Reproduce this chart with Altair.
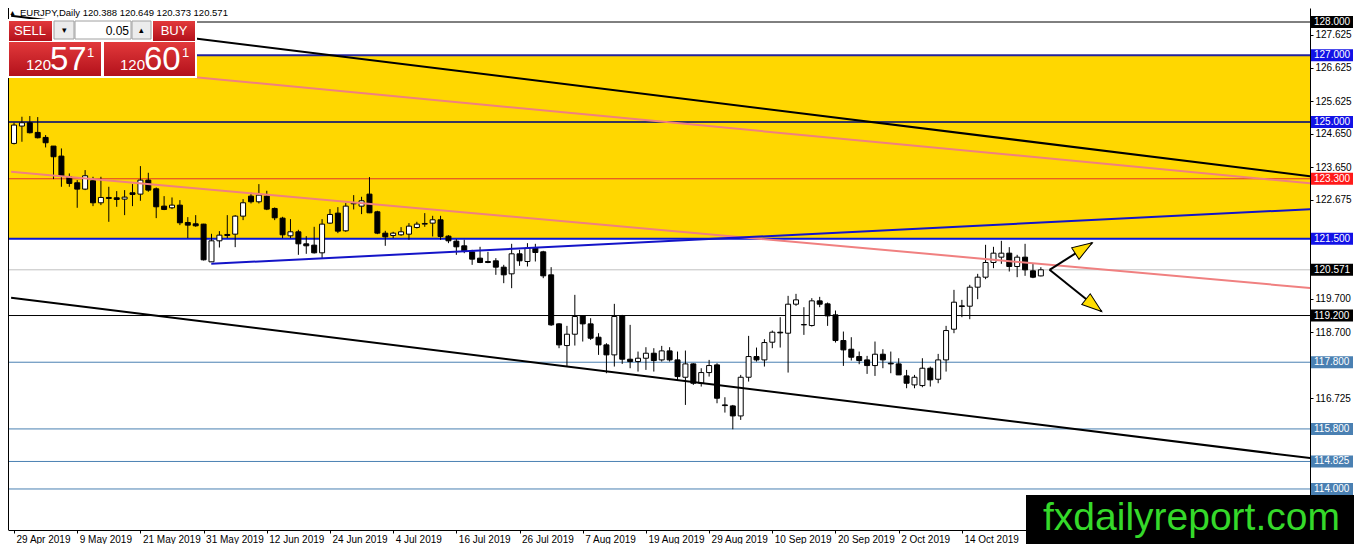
import json

import altair as alt
import pandas as pd

# ---- values ------------------------------------------------------------
symbol = "EURJPY"
period = "Daily"

date_labels = ["29 Apr 2019", "9 May 2019", "21 May 2019", "31 May 2019",
               "12 Jun 2019", "24 Jun 2019", "4 Jul 2019", "16 Jul 2019",
               "26 Jul 2019", "7 Aug 2019", "19 Aug 2019", "29 Aug 2019",
               "10 Sep 2019", "20 Sep 2019", "2 Oct 2019", "14 Oct 2019"]
bars_per_label = 8

opens = [124.36, 124.88, 124.98, 124.69, 124.54, 124.28, 123.98, 123.36, 123.18, 122.99,
         123.24, 122.58, 122.74, 122.73, 122.69, 122.88, 122.84, 123.26, 123.00, 122.48,
         122.43, 122.51, 121.99, 121.95, 121.94, 120.81, 121.44, 121.63, 121.64, 122.18,
         122.78, 122.61, 122.78, 122.41, 122.12, 121.59, 121.71, 121.35, 121.31, 121.08,
         121.97, 122.27, 121.74, 122.55, 122.48, 122.84, 122.31, 121.67, 121.60, 121.62,
         121.64, 121.84, 121.94, 121.97, 122.07, 121.58, 121.43, 121.29, 121.11, 120.92,
         120.82, 120.84, 120.65, 120.45, 121.05, 120.82, 121.22, 121.11, 120.42, 118.95,
         118.30, 118.64, 119.19, 118.95, 118.55, 118.32, 118.02, 119.19, 117.89, 117.82,
         117.92, 118.07, 117.87, 118.14, 117.87, 117.35, 117.75, 117.17, 117.49, 117.72,
         116.52, 116.49, 116.19, 117.35, 117.97, 117.87, 118.40, 118.70, 118.67, 119.54,
         118.93, 118.90, 119.64, 119.55, 119.22, 118.45, 118.19, 117.97, 117.87, 117.70,
         118.04, 117.77, 117.75, 117.39, 117.12, 117.10, 117.62, 117.29, 117.87, 118.79,
         119.49, 119.48, 120.05, 120.35, 120.79, 120.95, 121.07, 120.67, 120.95, 120.54,
         120.388]
highs = [124.98, 125.16, 125.18, 125.15, 124.61, 124.28, 124.21, 123.46, 123.26, 123.56,
         123.36, 123.36, 123.06, 122.93, 122.96, 123.14, 123.68, 123.48, 123.04, 122.78,
         122.74, 122.66, 122.15, 122.21, 121.95, 121.65, 121.73, 122.21, 122.21, 122.69,
         122.88, 123.14, 122.94, 122.44, 122.16, 122.09, 121.77, 121.58, 121.86, 122.09,
         122.39, 122.45, 122.57, 122.81, 122.76, 123.35, 122.34, 121.74, 121.71, 121.85,
         121.97, 122.01, 122.27, 122.19, 122.19, 121.61, 121.49, 121.47, 121.17, 121.26,
         121.11, 120.92, 120.72, 121.35, 121.17, 121.37, 121.35, 121.14, 120.65, 118.97,
         118.89, 119.82, 119.21, 119.12, 118.67, 118.37, 119.55, 119.22, 118.92, 118.12,
         118.25, 118.22, 118.29, 118.25, 118.12, 118.15, 117.77, 117.62, 117.87, 117.77,
         116.75, 116.52, 117.42, 118.59, 118.24, 118.49, 118.75, 119.15, 119.79, 119.85,
         119.45, 119.72, 119.76, 119.59, 119.35, 118.72, 118.55, 118.12, 117.99, 118.42,
         118.19, 118.12, 117.92, 117.57, 117.42, 117.92, 117.67, 118.05, 118.89, 119.97,
         119.67, 120.12, 120.45, 121.32, 121.26, 121.44, 121.25, 121.02, 121.35, 120.77,
         120.649]
lows = [124.33, 124.41, 124.66, 124.51, 124.24, 123.29, 123.06, 123.06, 122.43, 122.96,
        122.48, 122.51, 122.01, 122.46, 122.21, 122.48, 122.64, 122.91, 122.12, 122.36,
        122.39, 121.91, 121.52, 121.86, 120.85, 120.81, 121.24, 121.52, 121.25, 122.06,
        122.56, 122.56, 122.36, 122.06, 121.52, 121.52, 121.02, 121.05, 121.06, 120.92,
        121.95, 121.67, 121.71, 122.38, 122.24, 122.27, 121.64, 121.29, 121.52, 121.59,
        121.47, 121.81, 121.86, 121.57, 121.47, 121.37, 121.02, 121.07, 120.72, 120.77,
        120.77, 120.42, 120.17, 120.02, 120.69, 120.67, 120.82, 120.32, 118.89, 118.22,
        117.67, 118.30, 118.42, 118.47, 118.02, 117.47, 117.67, 117.75, 117.62, 117.52,
        117.57, 117.52, 117.82, 117.82, 117.25, 116.52, 117.12, 117.07, 117.37, 116.57,
        116.29, 115.79, 116.07, 117.22, 117.82, 117.67, 118.22, 118.24, 117.49, 119.49,
        118.62, 118.87, 119.45, 118.89, 118.39, 117.69, 117.85, 117.74, 117.45, 117.39,
        117.62, 117.47, 117.42, 117.02, 117.02, 117.05, 117.07, 117.17, 117.52, 118.67,
        119.15, 119.09, 119.69, 120.29, 120.62, 120.75, 120.52, 120.35, 120.39, 120.32,
        120.373]
closes = [124.91, 124.98, 124.68, 124.53, 124.38, 123.96, 123.38, 123.16, 122.99, 123.39,
          122.58, 122.74, 122.71, 122.68, 122.75, 122.83, 123.26, 122.96, 122.46, 122.38,
          122.51, 121.98, 121.91, 121.89, 120.87, 121.44, 121.61, 121.60, 122.18, 122.58,
          122.61, 122.81, 122.39, 122.13, 121.62, 121.71, 121.35, 121.29, 121.08, 121.94,
          122.23, 121.73, 122.48, 122.57, 122.64, 122.28, 121.67, 121.56, 121.67, 121.71,
          121.88, 121.94, 121.96, 122.07, 121.57, 121.44, 121.26, 121.14, 120.89, 120.79,
          120.79, 120.65, 120.42, 121.05, 120.84, 121.22, 121.09, 120.39, 118.92, 118.32,
          118.64, 119.17, 118.95, 118.52, 118.32, 118.02, 119.17, 117.89, 117.82, 117.92,
          118.07, 117.85, 118.14, 117.87, 117.37, 117.75, 117.17, 117.49, 117.70, 116.72,
          116.50, 116.19, 117.35, 117.97, 117.87, 118.39, 118.70, 118.68, 119.54, 119.67,
          118.92, 119.64, 119.54, 119.19, 118.45, 118.17, 117.95, 117.85, 117.70, 118.04,
          117.87, 117.75, 117.42, 117.17, 117.35, 117.62, 117.27, 117.87, 118.75, 119.60,
          119.47, 120.05, 120.35, 120.79, 121.07, 121.07, 120.67, 120.95, 120.57, 120.35,
          120.571]

# horizontal levels drawn on the chart
zone_low, zone_high = 121.5, 127.0
black_levels = [128.0, 119.2]
blue_levels = [127.0, 125.0, 121.5]
red_levels = [123.3]
steel_levels = [117.8, 115.8, 114.825, 114.0]
# scale labels that are not hidden behind a price tag
price_ticks = [127.625, 126.625, 125.625, 124.650, 123.650, 122.675,
               119.700, 118.700, 116.725]

# trend lines: (bar index, price) at both ends
upper_black = {"i": [-0.37, 164.3], "p": [128.19, 123.37]}
upper_pink = {"i": [-0.37, 164.3], "p": [126.87, 123.16]}
lower_pink = {"i": [-0.37, 164.3], "p": [123.51, 120.02]}
rising_blue = {"i": [24.97, 164.3], "p": [120.75, 122.39]}
lower_black = {"i": [-0.37, 164.3], "p": [119.73, 114.92]}

# the two scenario arrows
arrow_from = [131.1, 120.57]
arrow_up_to = [136.5, 121.38]
arrow_down_to = [137.7, 119.32]

lot_size = 0.05
spread = 0.030
site = "fxdailyreport.com"

# ---- layout -------------------------------------------------------------
W, H = 1302, 522
TAG_W = 44
FONT = "Liberation Sans"
RED_FILL = alt.LinearGradient(gradient="linear", x1=0, y1=0, x2=0, y2=1,
                              stops=[alt.GradientStop(color="#e2393b", offset=0),
                                     alt.GradientStop(color="#b3111b", offset=1)])

x_scale = alt.Scale(domain=[-0.13, 163.44], nice=False, zero=False)
y_scale = alt.Scale(domain=[112.77, 128.42], nice=False, zero=False)

x_axis = alt.Axis(values=[k * bars_per_label for k in range(len(date_labels))],
                  labelExpr=f"{json.dumps(date_labels)}[round(datum.value / {bars_per_label})]",
                  labelAlign="left", labelBaseline="top", labelOffset=2, labelPadding=1,
                  tickSize=3, tickColor="black", domainColor="black", grid=False,
                  labelFlush=False, labelOverlap=False, title=None)
y_axis = alt.Axis(orient="right", values=price_ticks, format=".3f", labelAlign="left",
                  labelBaseline="middle", labelPadding=2, tickSize=3, tickColor="black",
                  domainColor="black", grid=False, labelFlush=False, labelOverlap=False,
                  title=None)


def xq(field):
    return alt.X(f"{field}:Q", scale=x_scale, axis=x_axis)


def yq(field):
    return alt.Y(f"{field}:Q", scale=y_scale, axis=y_axis)


one = pd.DataFrame({"k": [0]})
candles = pd.DataFrame({"i": range(len(opens)), "open": opens, "high": highs,
                        "low": lows, "close": closes})

layers = []

# yellow zone
layers.append(
    alt.Chart(pd.DataFrame({"lo": [zone_low], "hi": [zone_high]}))
    .mark_rect(color="#FFD700")
    .encode(x=alt.value(0), x2=alt.value(W), y=yq("hi"), y2="lo")
)


def levels(values, color, width):
    return (alt.Chart(pd.DataFrame({"p": values}))
            .mark_rule(color=color, strokeWidth=width)
            .encode(y=yq("p")))


layers += [
    levels([closes[-1]], "#c0c0c0", 1),
    levels(black_levels, "black", 1),
    levels(steel_levels, "#4a80b2", 1),
    levels(red_levels, "#e0352f", 1),
    levels(blue_levels[:1], "#23239c", 2),
    levels(blue_levels[1:2], "#36365e", 2),
    levels(blue_levels[2:], "#0a18d2", 2),
]

# candles
layers.append(
    alt.Chart(candles).mark_rule(color="black", strokeWidth=1)
    .encode(x=xq("i"), y=yq("low"), y2="high")
)
layers.append(
    alt.Chart(candles).mark_bar(size=5, stroke="black", strokeWidth=1)
    .encode(x=xq("i"), y=yq("open"), y2="close",
            fill=alt.condition("datum.close >= datum.open",
                               alt.value("white"), alt.value("black")))
)


def trend(points, color):
    return (alt.Chart(pd.DataFrame(points))
            .mark_line(color=color, strokeWidth=2, clip=True)
            .encode(x=xq("i"), y=yq("p")))


layers += [trend(upper_pink, "#F08080"), trend(lower_pink, "#F08080"),
           trend(upper_black, "black"), trend(lower_black, "black"),
           trend(rising_blue, "#1414c8")]

# arrows
for tip, angle in [(arrow_up_to, 57.5), (arrow_down_to, 128.4)]:
    seg = pd.DataFrame({"i": [arrow_from[0], tip[0]], "p": [arrow_from[1], tip[1]]})
    layers.append(alt.Chart(seg).mark_line(color="black", strokeWidth=2)
                  .encode(x=xq("i"), y=yq("p")))
    layers.append(
        alt.Chart(seg.iloc[1:]).mark_point(shape="M0,0L-0.34,1L0.34,1Z", filled=True,
                                           fill="#FFDD00", stroke="black", strokeWidth=1,
                                           size=1600, angle=angle, opacity=1)
        .encode(x=xq("i"), y=yq("p"))
    )

# left border of the chart window
layers.append(alt.Chart(one).mark_rule(color="black")
              .encode(x=alt.value(0.5), y=alt.value(0), y2=alt.value(H)))


# one-click trading panel (screen coordinates of the terminal)
def box(x0, y0, x1, y1, **style):
    return alt.Chart(one).mark_rect(**style).encode(
        x=alt.value(x0 - 5), x2=alt.value(x1 - 5), y=alt.value(y0 - 8), y2=alt.value(y1 - 8))


def label(x, y, text, **style):
    style.setdefault("font", FONT)
    return alt.Chart(one).mark_text(text=text, **style).encode(
        x=alt.value(x - 5), y=alt.value(y - 8))


def split_quote(q):
    s = f"{q:.3f}"
    return s[:3], s[4:6], s[6]


bid = split_quote(closes[-1])
ask = split_quote(closes[-1] + spread)

layers += [
    box(4, 19, 194, 78, fill="white"),
    box(6, 21, 49, 41, fill=RED_FILL),
    box(150, 21, 192, 41, fill=RED_FILL),
    box(51, 21, 71, 39, fill="#ececec", stroke="#a0a0a0", strokeWidth=1),
    box(72, 21, 128, 39, fill="white", stroke="#a0a0a0", strokeWidth=1),
    box(129, 21, 148, 39, fill="#ececec", stroke="#a0a0a0", strokeWidth=1),
    box(6, 42, 98, 76, fill=RED_FILL),
    box(101, 42, 192, 76, fill=RED_FILL),
    label(27, 31, "SELL", color="white", fontSize=13, align="center", baseline="middle"),
    label(171, 31, "BUY", color="white", fontSize=13, align="center", baseline="middle"),
    label(61, 30, "▾", color="black", fontSize=9, align="center", baseline="middle"),
    label(138, 30, "▴", color="black", fontSize=9, align="center", baseline="middle"),
    label(126, 31, f"{lot_size:.2f}", color="black", fontSize=12, align="right",
          baseline="middle"),
    label(23, 70, bid[0], color="white", fontSize=15, align="left", baseline="alphabetic"),
    label(47, 70, bid[1], color="white", fontSize=33, align="left", baseline="alphabetic"),
    label(84, 57, bid[2], color="white", fontSize=13, align="left", baseline="alphabetic"),
    label(117, 70, ask[0], color="white", fontSize=15, align="left", baseline="alphabetic"),
    label(141, 70, ask[1], color="white", fontSize=33, align="left", baseline="alphabetic"),
    label(179, 57, ask[2], color="white", fontSize=13, align="left", baseline="alphabetic"),
]

# chart caption
caption = f"{symbol},{period}  {opens[-1]:.3f} {highs[-1]:.3f} {lows[-1]:.3f} {closes[-1]:.3f}"
layers.append(alt.Chart(one).mark_text(text="▲", font=FONT, fontSize=7, color="black",
                                       align="left", baseline="top")
              .encode(x=alt.value(1), y=alt.value(1)))
layers.append(alt.Chart(one).mark_text(text=caption, font=FONT, fontSize=9.5, color="black",
                                       align="left", baseline="top")
              .encode(x=alt.value(12), y=alt.value(0)))


# price tags on the right scale
def tags(values, color):
    df = pd.DataFrame({"p": values})
    rect = (alt.Chart(df).mark_rule(color=color, strokeWidth=12, strokeCap="butt")
            .encode(x=alt.value(W + 1), x2=alt.value(W + TAG_W - 1), y=yq("p")))
    txt = (alt.Chart(df).mark_text(color="white", font=FONT, fontSize=10, align="left",
                                   baseline="middle")
           .encode(x=alt.value(W + 4), y=yq("p"), text=alt.Text("p:Q", format=".3f")))
    return [rect, txt]


layers += tags(black_levels + [closes[-1]], "black")
layers += tags(blue_levels, "#1212e6")
layers += tags(red_levels, "#ff1a1a")
layers += tags(steel_levels, "#4a80b2")

# site watermark
layers.append(alt.Chart(one).mark_rect(fill="black")
              .encode(x=alt.value(1018), x2=alt.value(W + TAG_W), y=alt.value(487),
                      y2=alt.value(H + 14)))
layers.append(alt.Chart(one).mark_text(text=site, font=FONT, fontSize=39, color="#35d92a",
                                       align="left", baseline="alphabetic")
              .encode(x=alt.value(1035), y=alt.value(522)))

chart = (
    alt.layer(*layers)
    .properties(width=W, height=H, background="white",
                autosize=alt.AutoSizeParams(type="none"),
                padding={"left": 0, "top": 0, "right": TAG_W, "bottom": 14})
    .configure_view(strokeWidth=0)
    .configure_axis(labelFont=FONT, labelFontSize=10, labelColor="black")
)

chart.save("out.html", embed_options={"renderer": "svg", "actions": False})
